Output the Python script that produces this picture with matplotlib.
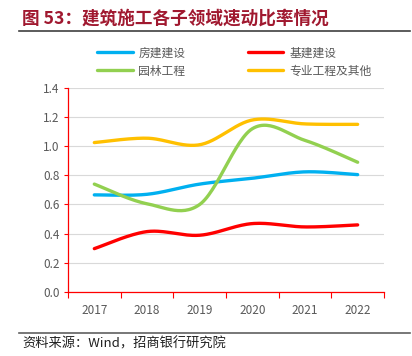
import numpy as np
import matplotlib
matplotlib.use('Agg')
import matplotlib.pyplot as plt

plt.rcParams['font.family'] = ['Noto Sans CJK SC', 'DejaVu Sans']

years = ['2017', '2018', '2019', '2020', '2021', '2022']
fangjian = [0.666, 0.67, 0.74, 0.78, 0.824, 0.805]
jijian = [0.297, 0.414, 0.389, 0.469, 0.446, 0.46]
yuanlin = [0.74, 0.605, 0.60, 1.12, 1.04, 0.89]
zhuanye = [1.025, 1.055, 1.01, 1.18, 1.153, 1.15]

series = [
    ('房建建设', fangjian, '#00B0F0'),
    ('基建建设', jijian, '#FF0000'),
    ('园林工程', yuanlin, '#92D050'),
    ('专业工程及其他', zhuanye, '#FFC000'),
]


def smooth(x, y, n=30):
    # excel-like smoothed line (catmull-rom bezier)
    x = np.asarray(x, float)
    y = np.asarray(y, float)
    px = np.concatenate([[x[0]], x, [x[-1]]])
    py = np.concatenate([[y[0]], y, [y[-1]]])
    xs, ys = [], []
    t = np.linspace(0, 1, n)
    for i in range(1, len(px) - 2):
        p0 = np.array([px[i], py[i]])
        p3 = np.array([px[i + 1], py[i + 1]])
        p1 = p0 + (p3 - np.array([px[i - 1], py[i - 1]])) / 6
        p2 = p3 - (np.array([px[i + 2], py[i + 2]]) - p0) / 6
        b = ((1 - t) ** 3)[:, None] * p0 + (3 * (1 - t) ** 2 * t)[:, None] * p1 \
            + (3 * (1 - t) * t ** 2)[:, None] * p2 + (t ** 3)[:, None] * p3
        xs.extend(b[:, 0])
        ys.extend(b[:, 1])
    return np.array(xs), np.array(ys)


fig = plt.figure(figsize=(4.12, 3.56), dpi=100)
ax = fig.add_axes([0.165, 0.180, 0.767, 0.573])

x = np.arange(len(years))
handles = []
for name, vals, col in series:
    sx, sy = smooth(x, vals)
    h, = ax.plot(sx, sy, color=col, lw=2.4, solid_capstyle='round', label=name)
    handles.append(h)

ax.set_xlim(-0.5, len(years) - 0.5)
ax.set_ylim(0, 1.4)
ax.set_yticks(np.arange(0, 1.41, 0.2))
ax.set_yticklabels([f'{v:.1f}' for v in np.arange(0, 1.41, 0.2)])
ax.set_xticks(x)
ax.set_xticklabels(years)
ax.set_xticks(np.arange(-0.5, len(years), 1.0), minor=True)
ax.tick_params(axis='x', which='major', length=0, pad=9, labelsize=8.5, labelcolor='#595959')
ax.tick_params(axis='x', which='minor', length=4, color='#FF0000', width=0.8)
ax.tick_params(axis='y', length=3, color='#FF0000', width=0.8, labelsize=8.5, labelcolor='#595959', pad=3)
ax.grid(axis='y', color='#D9D9D9', lw=0.8)
ax.set_axisbelow(True)
for s in ['top', 'right']:
    ax.spines[s].set_visible(False)
for s in ['left', 'bottom']:
    ax.spines[s].set_color('#FF0000')
    ax.spines[s].set_linewidth(0.9)

fig.legend(handles=[handles[0], handles[2], handles[1], handles[3]], ncol=2,
           loc='upper left', bbox_to_anchor=(0.21, 0.9), frameon=False,
           fontsize=8.5, handlelength=3.0, handletextpad=0.5, columnspacing=5.3,
           labelspacing=0.45, labelcolor='#595959')

fig.text(0.053, 0.947, '图 53：建筑施工各子领域速动比率情况', color='#A0182F',
         fontsize=12.7, fontweight='bold', va='center', ha='left')
fig.add_artist(plt.Line2D([0.045, 0.995], [0.913, 0.913], color='#404040', lw=1.2))
fig.add_artist(plt.Line2D([0.045, 0.995], [0.065, 0.065], color='#606060', lw=1.2))
fig.text(0.055, 0.035, '资料来源：Wind，招商银行研究院', color='#202020',
         fontsize=9.5, va='center', ha='left')

fig.savefig('out.png', dpi=100)
